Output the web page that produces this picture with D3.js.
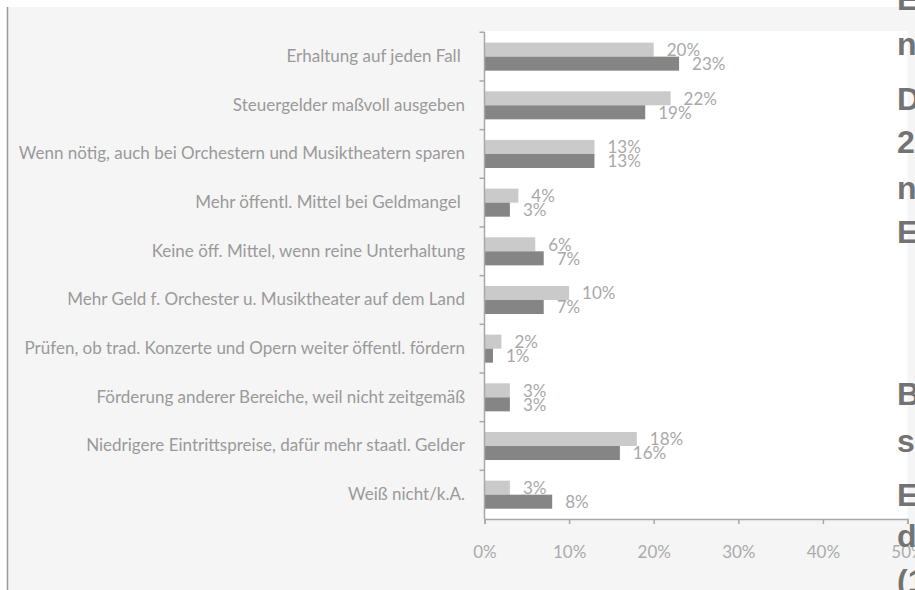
<!DOCTYPE html>
<html>
<head>
    <script src="https://d3js.org/d3.v7.min.js"></script>
    <style>
        body { margin: 0; background: #fff; }
        svg { display: block; }
        .cat-label { font-family: Lato, "Open Sans", sans-serif; font-size: 17px; fill: #9a9a9a; }
        .val-label { font-family: Lato, "Open Sans", sans-serif; font-size: 17px; fill: #a8a8a8; }
        .axis text { font-family: Lato, "Open Sans", sans-serif; font-size: 17px; fill: #ababab; }
        .axis path, .axis line { stroke: #a8a8a8; stroke-width: 1.5; }
        .side-text { font-family: "Liberation Sans", Arial, sans-serif; font-weight: bold; font-size: 32px; fill: #737373; }
    </style>
</head>
<body>
<svg id="chart" width="915" height="590"></svg>
<script>
    const categories = [
        "Erhaltung auf jeden Fall\u00a0",
        "Steuergelder maßvoll ausgeben",
        "Wenn nötig, auch bei Orchestern und Musiktheatern sparen",
        "Mehr öffentl. Mittel bei Geldmangel\u00a0",
        "Keine öff. Mittel, wenn reine Unterhaltung",
        "Mehr Geld f. Orchester u. Musiktheater auf dem Land",
        "Prüfen, ob trad. Konzerte und Opern weiter öffentl. fördern",
        "Förderung anderer Bereiche, weil nicht zeitgemäß",
        "Niedrigere Eintrittspreise, dafür mehr staatl. Gelder",
        "Weiß nicht/k.A."
    ];
    const lightValues = [20, 22, 13, 4, 6, 10, 2, 3, 18, 3];
    const darkValues = [23, 19, 13, 3, 7, 7, 1, 3, 16, 8];
    const xTicks = [0, 10, 20, 30, 40, 50];

    // cut-off text column of the neighbouring page on the right
    const sideLetters = ["E", "n", "D", "2", "n", "E", "B", "s", "E", "d", "(1"];
    const sideBaselines = [10, 55, 110, 153, 199, 243, 405, 452, 506, 547, 592];

    const svg = d3.select("#chart");

    // page backgrounds
    svg.append("rect").attr("x", 7).attr("y", 7).attr("width", 908).attr("height", 583).attr("fill", "#f5f5f5");
    svg.append("line").attr("x1", 7.5).attr("x2", 7.5).attr("y1", 7).attr("y2", 590)
        .attr("stroke", "#9a9a9a").attr("stroke-width", 1.5);

    const x = d3.scaleLinear().domain([0, 50]).range([484.5, 907.5]);
    const y = d3.scaleBand().domain(categories).range([32.3, 519]);
    const series = ["light", "dark"];
    const ySub = d3.scaleBand().domain(series).range([10.3, y.bandwidth() - 10.3]);

    // white plot area
    svg.append("rect").attr("x", x(0)).attr("y", 31).attr("width", x(50) - x(0)).attr("height", y.range()[1] - 31)
        .attr("fill", "#ffffff");

    const rows = categories.map((c, i) => ({ cat: c, light: lightValues[i], dark: darkValues[i] }));
    const colors = { light: "#cacaca", dark: "#858585" };

    const groups = svg.append("g").selectAll("g")
        .data(rows)
        .join("g")
        .attr("transform", d => `translate(0,${y(d.cat)})`);

    series.forEach(s => {
        groups.append("rect")
            .attr("x", x(0))
            .attr("y", ySub(s))
            .attr("width", d => x(d[s]) - x(0))
            .attr("height", ySub.bandwidth())
            .attr("fill", colors[s]);

        groups.append("text")
            .attr("class", "val-label")
            .attr("x", d => x(d[s]) + 13)
            .attr("y", ySub(s) + ySub.bandwidth() / 2 + 2)
            .attr("dominant-baseline", "middle")
            .text(d => d[s] + "%");
    });

    // category labels
    svg.append("g").selectAll("text")
        .data(categories)
        .join("text")
        .attr("class", "cat-label")
        .attr("x", 465)
        .attr("y", d => y(d) + y.bandwidth() / 2 + 1)
        .attr("text-anchor", "end")
        .attr("dominant-baseline", "middle")
        .style("white-space", "pre")
        .text(d => d);

    // y axis with ticks at band boundaries
    const yAxis = svg.append("g").attr("class", "axis");
    yAxis.append("line").attr("x1", x(0)).attr("x2", x(0)).attr("y1", y.range()[0]).attr("y2", y.range()[1]);
    yAxis.selectAll(".bt")
        .data(categories)
        .join("line")
        .attr("x1", x(0) - 5).attr("x2", x(0))
        .attr("y1", d => y(d)).attr("y2", d => y(d));

    // x axis
    svg.append("g")
        .attr("class", "axis")
        .attr("transform", `translate(0,${y.range()[1]})`)
        .call(d3.axisBottom(x).tickValues(xTicks).tickFormat(d => d + "%").tickSizeOuter(0).tickSize(5).tickPadding(22));

    // side column text
    svg.append("g").selectAll("text")
        .data(sideLetters)
        .join("text")
        .attr("class", "side-text")
        .attr("x", 897)
        .attr("y", (d, i) => sideBaselines[i])
        .text(d => d);
</script>
</body>
</html>
